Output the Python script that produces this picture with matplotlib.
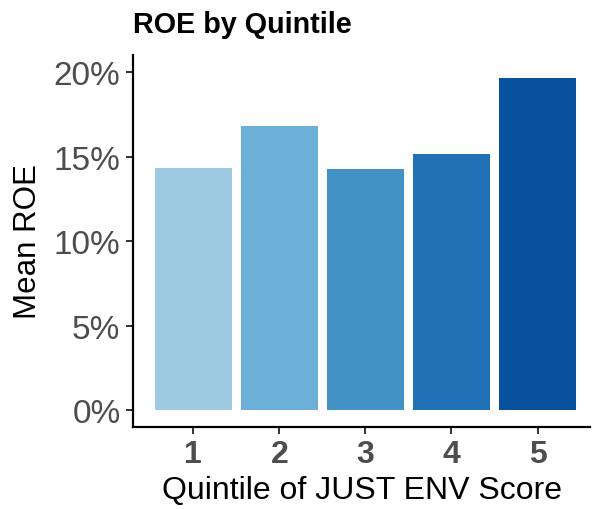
import matplotlib.pyplot as plt
from matplotlib.ticker import FuncFormatter

quintiles = [1, 2, 3, 4, 5]
mean_roe = [14.33, 16.8, 14.27, 15.15, 19.64]
colors = ["#9ECAE1", "#6BAED6", "#4292C6", "#2171B5", "#08519C"]

plt.rcParams['font.family'] = ['Liberation Sans', 'DejaVu Sans']

fig = plt.figure(figsize=(5.92, 5.10), dpi=100)
ax = fig.add_axes([133 / 592, 1 - 428 / 510, 457 / 592, 372 / 510])

ax.bar(quintiles, mean_roe, width=0.9, color=colors)

ax.set_xlim(0.3, 5.61)
ax.set_ylim(-0.98, 21.0)
ax.set_xticks(quintiles)
ax.set_yticks([0, 5, 10, 15, 20])
ax.yaxis.set_major_formatter(FuncFormatter(lambda v, p: f"{v:.0f}%"))

for s in ["top", "right"]:
    ax.spines[s].set_visible(False)
for s in ["left", "bottom"]:
    ax.spines[s].set_linewidth(1.6)

ax.tick_params(axis="both", length=5, width=1.4, color="#333333", labelcolor="#4D4D4D")
ax.tick_params(axis="y", labelsize=24, pad=4)
ax.tick_params(axis="x", labelsize=23, pad=4)
for lab in ax.get_xticklabels():
    lab.set_fontweight("bold")

ax.set_xlabel("Quintile of JUST ENV Score", fontsize=23, labelpad=4)
ax.set_ylabel("Mean ROE", fontsize=22.5, labelpad=8)
fig.text(133 / 592, 1 - 25 / 510, "ROE by Quintile", fontsize=20.7, fontweight="bold",
         ha="left", va="center")

fig.savefig("out.png", dpi=100)
